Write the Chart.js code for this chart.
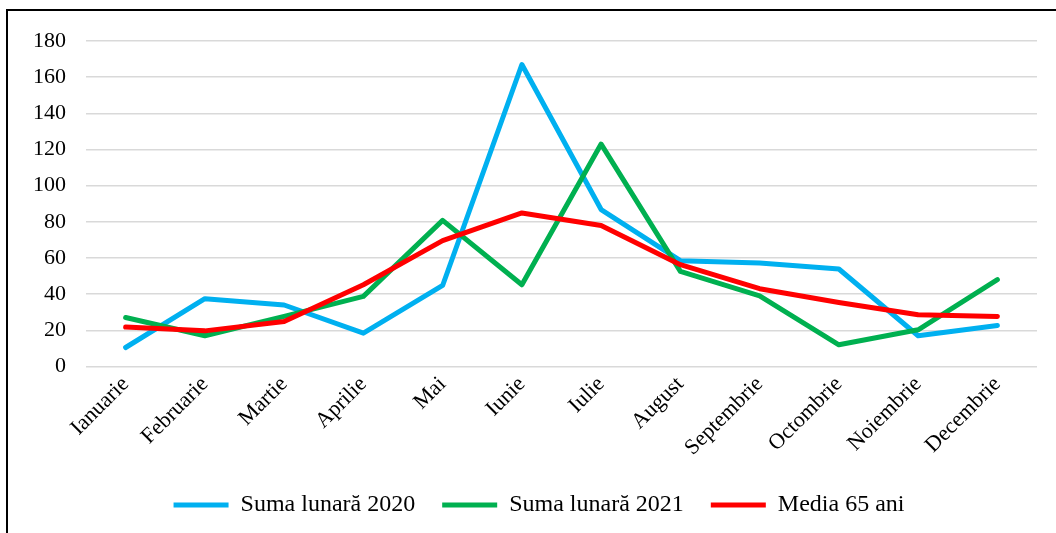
<!DOCTYPE html>
<html>
<head>
<meta charset="utf-8">
<script src="https://cdn.jsdelivr.net/npm/chart.js@4/dist/chart.umd.min.js"></script>
<style>
  html, body { margin: 0; padding: 0; background: #fff; }
  #wrap { position: relative; width: 1056px; height: 533px; overflow: hidden; }
  #frame { position: absolute; left: 6px; top: 9px; width: 1100px; height: 600px; border: 2px solid #000; box-sizing: border-box; pointer-events: none; }
</style>
</head>
<body>
<div id="wrap">
  <canvas id="chart" width="1056" height="533"></canvas>
  <div id="frame"></div>
</div>
<script>
const months = ["Ianuarie", "Februarie", "Martie", "Aprilie", "Mai", "Iunie", "Iulie", "August", "Septembrie", "Octombrie", "Noiembrie", "Decembrie"];
const suma2020 = [10.5, 37.5, 34, 18.4, 44.8, 167, 86.8, 58.5, 57.2, 53.9, 17, 22.7];
const suma2021 = [27.1, 17, 27.7, 38.8, 80.8, 45.2, 123, 52.6, 39.1, 12, 20.3, 48];
const media65 = [21.8, 19.7, 24.9, 45.2, 69.6, 84.9, 78, 56.3, 43, 35.4, 28.6, 27.7];
const yTicks = [0, 20, 40, 60, 80, 100, 120, 140, 160, 180];

const serif = "'Liberation Serif', 'Times New Roman', serif";
const tickFont = { family: serif, size: 22 };
const legendFont = { family: serif, size: 24 };

// nudge the legend a bit to the right, like in the original
const legendShift = {
  id: "legendShift",
  afterLayout(chart) {
    chart.legend.left += 14;
    chart.legend.right += 14;
  }
};

const ctx = document.getElementById("chart").getContext("2d");

new Chart(ctx, {
  type: "line",
  data: {
    labels: months,
    datasets: [
      { label: "Suma lunară 2020", data: suma2020, borderColor: "#00B0F0", backgroundColor: "#00B0F0", order: 2 },
      { label: "Suma lunară 2021", data: suma2021, borderColor: "#00B050", backgroundColor: "#00B050", order: 1 },
      { label: "Media 65 ani", data: media65, borderColor: "#FF0000", backgroundColor: "#FF0000", order: 0 }
    ]
  },
  plugins: [legendShift],
  options: {
    responsive: false,
    animation: false,
    datasets: {
      line: { borderWidth: 5, pointRadius: 0, tension: 0, borderCapStyle: "round", borderJoinStyle: "round" }
    },
    layout: { padding: { left: 13, right: 19, top: 41, bottom: 6 } },
    plugins: {
      tooltip: { enabled: false },
      legend: {
        position: "bottom",
        labels: {
          color: "#000",
          font: legendFont,
          usePointStyle: true,
          pointStyle: "line",
          pointStyleWidth: 55,
          padding: 27,
          sort: (a, b) => a.datasetIndex - b.datasetIndex
        }
      }
    },
    scales: {
      x: {
        offset: true,
        grid: { display: false, drawTicks: false },
        border: { display: false },
        afterFit: axis => { axis.paddingLeft = 0; axis.paddingRight = 0; },
        ticks: { color: "#000", font: tickFont, minRotation: 45, maxRotation: 45, padding: 5 }
      },
      y: {
        min: 0,
        max: 180,
        afterBuildTicks: axis => { axis.ticks = yTicks.map(v => ({ value: v })); },
        grid: { color: "#d9d9d9", lineWidth: 1.5, drawTicks: false },
        border: { display: false },
        ticks: { color: "#000", font: tickFont, padding: 20 }
      }
    }
  }
});
</script>
</body>
</html>
